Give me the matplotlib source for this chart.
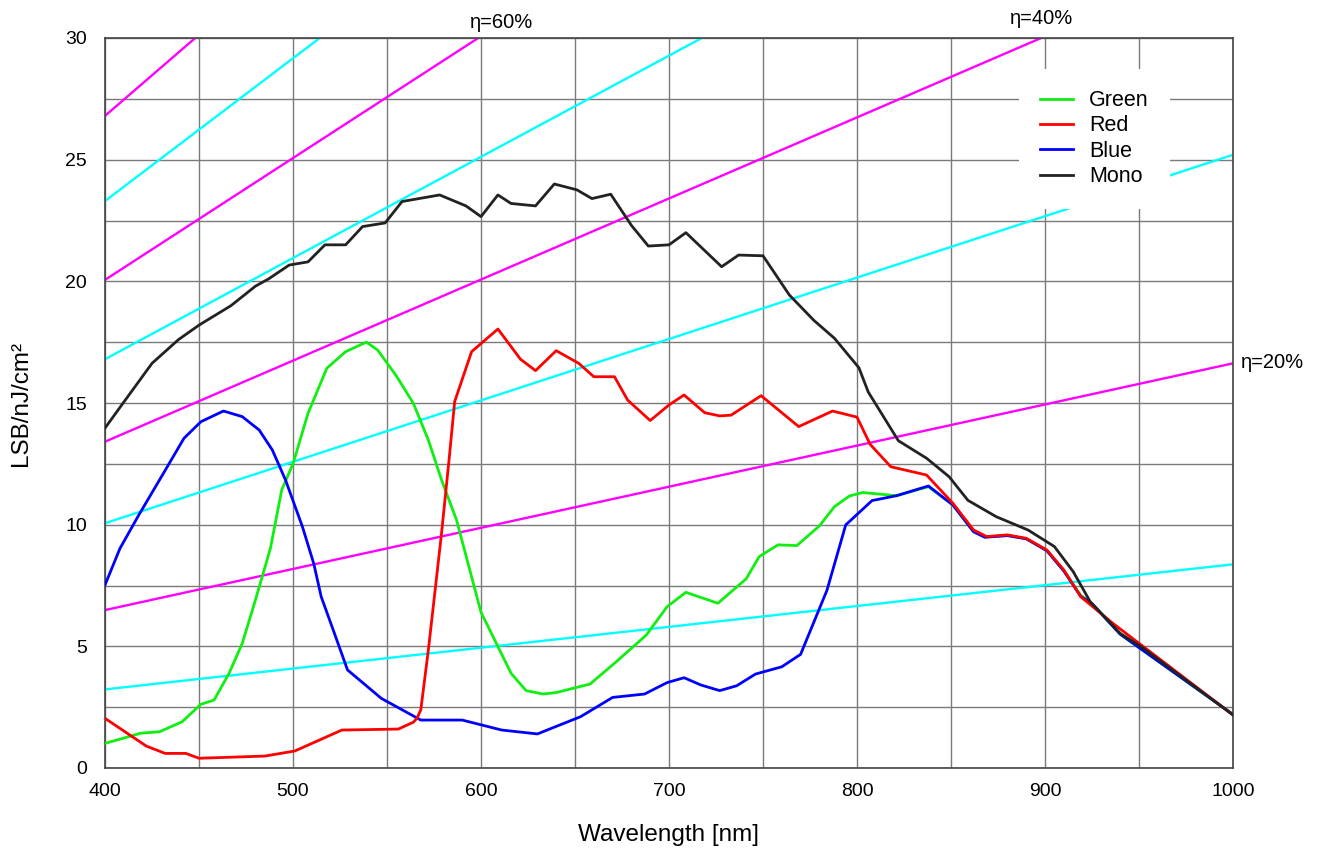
import matplotlib
matplotlib.use("Agg")
import matplotlib.pyplot as plt

plt.rcParams['font.family'] = ['Liberation Sans', 'DejaVu Sans']

# spectral response curves
wl_green = [400, 419, 429, 441, 451, 458, 466, 473, 480, 488, 494, 500, 508, 518, 528, 539, 545,
            555, 564, 572, 579, 587, 600, 609, 616, 624, 633, 640, 658, 672, 688, 699, 709, 726,
            741, 748, 758, 768, 780, 788, 796, 803, 821, 838, 851, 862, 869, 880, 890, 901, 910,
            919, 925, 940, 1000]
green = [1.01, 1.43, 1.49, 1.9, 2.62, 2.79, 3.89, 5.12, 6.9, 9.03, 11.43, 12.5, 14.58, 16.43, 17.11,
         17.5, 17.18, 16.11, 14.99, 13.48, 11.84, 10.19, 6.4, 4.99, 3.89, 3.18, 3.04, 3.1, 3.45,
         4.37, 5.47, 6.63, 7.22, 6.77, 7.77, 8.69, 9.17, 9.14, 9.95, 10.74, 11.18, 11.32, 11.19,
         11.56, 10.81, 9.71, 9.5, 9.56, 9.42, 8.93, 8.1, 7.1, 6.75, 5.5, 2.2]

wl_red = [400, 422, 432, 443, 450, 485, 501, 526, 556, 564, 566, 568, 572, 579, 583, 586, 595, 609,
          621, 629, 640, 652, 660, 671, 678, 690, 700, 708, 719, 727, 733, 749, 769, 787, 800, 807,
          818, 837, 851, 862, 869, 880, 890, 901, 910, 919, 936, 1000]
red = [2.04, 0.9, 0.6, 0.6, 0.4, 0.49, 0.7, 1.56, 1.6, 1.88, 2.05, 2.4, 4.85, 9.64, 12.66, 15.06,
       17.11, 18.04, 16.8, 16.33, 17.15, 16.63, 16.08, 16.08, 15.12, 14.28, 14.92, 15.33, 14.6,
       14.47, 14.5, 15.3, 14.03, 14.67, 14.42, 13.3, 12.38, 12.04, 10.88, 9.78, 9.51, 9.58, 9.44,
       8.96, 8.14, 7.04, 5.95, 2.18]

wl_blue = [400, 408, 418, 431, 442, 451, 463, 473, 482, 489, 496, 505, 511, 515, 522, 529, 547, 568,
           590, 611, 630, 653, 670, 687, 699, 708, 717, 727, 736, 746, 760, 770, 784, 794, 808, 821,
           838, 851, 862, 868, 880, 890, 901, 910, 919, 925, 940, 1000]
blue = [7.52, 9.03, 10.4, 12.1, 13.55, 14.23, 14.67, 14.44, 13.89, 13.07, 11.84, 9.92, 8.41, 7.04,
        5.54, 4.03, 2.86, 1.97, 1.97, 1.56, 1.4, 2.11, 2.9, 3.04, 3.51, 3.71, 3.41, 3.18, 3.38,
        3.86, 4.16, 4.67, 7.3, 9.99, 10.99, 11.19, 11.59, 10.81, 9.71, 9.48, 9.55, 9.42, 8.93,
        8.1, 7.05, 6.75, 5.5, 2.2]

wl_mono = [400, 412, 425, 439, 450, 467, 480, 487, 498, 508, 517, 528, 537, 549, 558, 578, 592, 600,
           609, 616, 629, 639, 651, 659, 669, 680, 689, 700, 709, 728, 737, 750, 764, 777, 788, 801,
           806, 822, 837, 849, 859, 874, 891, 905, 915, 924, 940, 951, 1000]
mono = [13.97, 15.25, 16.63, 17.6, 18.2, 19.0, 19.8, 20.1, 20.67, 20.8, 21.5, 21.5, 22.25, 22.4,
        23.28, 23.55, 23.1, 22.66, 23.55, 23.2, 23.1, 24.0, 23.76, 23.4, 23.58, 22.3, 21.45, 21.5,
        22.0, 20.6, 21.08, 21.05, 19.44, 18.4, 17.66, 16.45, 15.45, 13.45, 12.73, 11.97, 11.0,
        10.33, 9.78, 9.1, 8.07, 6.84, 5.53, 4.99, 2.18]

# quantum efficiency reference lines, value at 400 nm and 1000 nm
eta = [10, 20, 30, 40, 50, 60, 70, 80]
eta_at_400 = [3.23, 6.49, 10.06, 13.41, 16.8, 20.06, 23.3, 26.8]
eta_at_1000 = [8.37, 16.63, 25.2, 33.4, 41.75, 50.1, 58.5, 66.8]

fig = plt.figure(figsize=(13.23, 8.56), dpi=100)
ax = fig.add_axes([105 / 1323, 1 - 768 / 856, 1128 / 1323, 730 / 856])

for e, a, b in zip(eta, eta_at_400, eta_at_1000):
    col = "#ff00ff" if e % 20 == 0 else "#00ffff"
    ax.plot([400, 1000], [a, b], color=col, lw=1.7, zorder=2)

l_green, = ax.plot(wl_green, green, color="#11ee11", lw=2.0, zorder=3, label="Green")
l_blue, = ax.plot(wl_blue, blue, color="#0000ff", lw=2.0, zorder=3.1, label="Blue")
l_red, = ax.plot(wl_red, red, color="#ff0000", lw=2.0, zorder=3.2, label="Red")
l_mono, = ax.plot(wl_mono, mono, color="#222222", lw=2.0, zorder=3.3, label="Mono")

ax.set_xlim(400, 1000)
ax.set_ylim(0, 30)
ax.set_xticks(range(400, 1001, 100))
ax.set_xticks(range(450, 1000, 100), minor=True)
ax.set_yticks(range(0, 31, 5))
ax.set_yticks([2.5 + 5 * i for i in range(6)], minor=True)
ax.grid(True, which="both", color="#7a7a7a", lw=1.0, zorder=1)
ax.set_axisbelow(True)
ax.tick_params(which="both", length=0, labelsize=14)
ax.tick_params(axis="y", pad=13)
ax.tick_params(axis="x", pad=11)
for s in ax.spines.values():
    s.set_color("#444444")
    s.set_linewidth(1.2)

ax.set_xlabel("Wavelength [nm]", fontsize=17.5, labelpad=17)
ax.set_ylabel("LSB/nJ/cm²", fontsize=17.5, labelpad=24)

ax.text(611, 30.65, "η=60%", fontsize=14.5, ha="center", va="center", clip_on=False)
ax.text(898, 30.8, "η=40%", fontsize=14.5, ha="center", va="center", clip_on=False)
ax.text(1004, 16.65, "η=20%", fontsize=14.5, ha="left", va="center", clip_on=False)

leg = ax.legend(handles=[l_green, l_red, l_blue, l_mono], loc="upper left",
                bbox_to_anchor=(0.81, 0.958), borderaxespad=0, fontsize=15.5,
                handlelength=1.53, handletextpad=0.75, labelspacing=0.2,
                borderpad=1.0, frameon=True, fancybox=False)
leg.get_frame().set_facecolor("white")
leg.get_frame().set_edgecolor("none")
leg.get_frame().set_alpha(1)
leg.set_zorder(5)

fig.savefig("out.png", dpi=100)
